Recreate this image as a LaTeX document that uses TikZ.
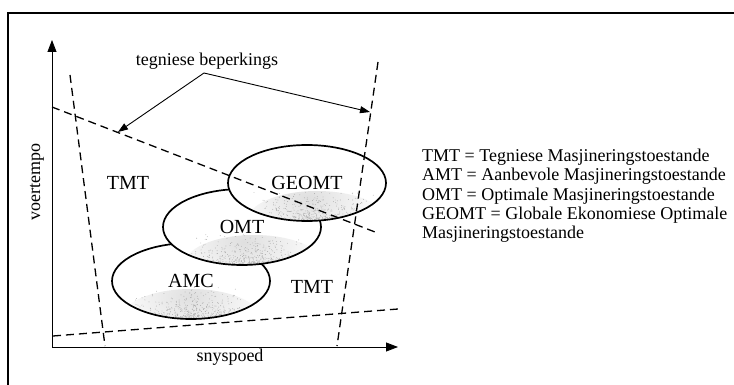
\documentclass[tikz,border=0pt]{standalone}
\usepackage{fontspec}
\setmainfont{Liberation Serif}
\usetikzlibrary{arrows.meta,shapes.geometric}
\tikzset{
  grens/.style={dash pattern=on 8pt off 5pt, line width=1.3pt},
  gebied/.style={ellipse, draw, line width=1.7pt, fill=white,
    minimum width=158pt, minimum height=76pt, inner sep=0pt,
    font=\fontsize{20}{24}\selectfont},
  as/.style={-{Triangle[length=12pt,width=9pt]}, line width=0.8pt},
  wys/.style={-{Triangle[length=10pt,width=7pt]}, line width=0.9pt},
  byskrif/.style={font=\fontsize{18}{20}\selectfont},
  streek/.style={font=\fontsize{20}{24}\selectfont}
}
% stippelskadu onder in 'n gebied: #1 = x-verskuiwing
\newcommand\stippel[1]{%
  \shade[inner color=gray!25, outer color=white]
    ([shift={(#1pt,-38pt)}]path picture bounding box.center)
    ellipse (70pt and 30pt);
  \foreach \k in {1,...,460} {
    \pgfmathsetmacro\px{#1+34*(rand+rand)}
    \pgfmathsetmacro\py{-37+32*rnd*rnd}
    \fill[gray!65] ([shift={(\px pt,\py pt)}]path picture bounding box.center)
      circle (0.45pt);
  }}
\begin{document}
\begin{tikzpicture}[x=1pt,y=-1pt]
  \pgfmathsetseed{7}
  \useasboundingbox (0,0) rectangle (734,385);
%Raam
  \draw[line width=2pt] (8,385) -- (8,13) -- (734,13);
%Asse
  \coordinate (o) at (52,347);
  \coordinate (ytop) at (52,40);
  \coordinate (xend) at (398,347);
  \draw[as] (o) -- (ytop);
  \draw[as] (o) -- (xend);
  \node[byskrif, rotate=90] (voer) at (37,182) {voertempo};
  \node[byskrif] (sny) at (230,357) {snyspoed};
%Gebiede
  \node[gebied, path picture={\stippel{0}}] (amc) at (191,281) {AMC};
  \node[gebied, path picture={\stippel{12}}] (omt) at (242,227) {OMT};
  \node[gebied, path picture={\stippel{10}}] (geomt) at (307,183) {GEOMT};
%Beperkings
  \coordinate (l1a) at (70,75);
  \coordinate (l1b) at (105,346);
  \coordinate (l2a) at (378,62);
  \coordinate (l2b) at (337,346);
  \coordinate (l3a) at (52,107);
  \coordinate (l3b) at (375,232);
  \coordinate (l4a) at (53,336);
  \coordinate (l4b) at (398,309);
  \draw[grens] (l1a) -- (l1b);
  \draw[grens] (l2a) -- (l2b);
  \draw[grens] (l3a) -- (l3b);
  \draw[grens] (l4a) -- (l4b);
%Beskrywing
  \node[byskrif] (tb) at (207,61) {tegniese beperkings};
  \coordinate (split) at (204,73);
  \coordinate (hit3) at (118,132);
  \coordinate (hit2) at (370,112);
  \draw[wys] (split) -- (hit3);
  \draw[wys] (split) -- (hit2);
  \node[streek] (tmt1) at (128,183) {TMT};
  \node[streek] (tmt2) at (312,287) {TMT};
%Sleutel
  \node[font=\fontsize{18}{19.3}\selectfont, align=left,
    anchor=north west, inner sep=0pt] (sleutel) at (422,149)
    {TMT = Tegniese Masjineringstoestande\\
     AMT = Aanbevole Masjineringstoestande\\
     OMT = Optimale Masjineringstoestande\\
     GEOMT = Globale Ekonomiese Optimale\\
     Masjineringstoestande};
\end{tikzpicture}
\end{document}
